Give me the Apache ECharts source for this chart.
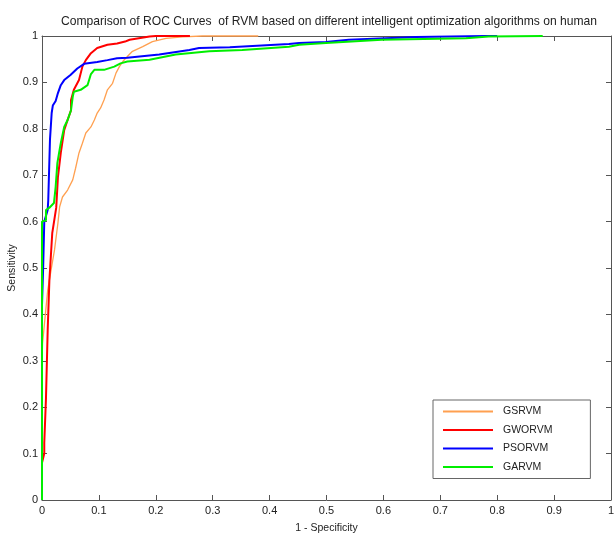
<!DOCTYPE html>
<html>
<head>
<meta charset="utf-8">
<script src="https://cdn.jsdelivr.net/npm/echarts@6/dist/echarts.min.js"></script>
<style>html,body{margin:0;padding:0;background:#fff}#c{width:614px;height:535px}</style>
</head>
<body>
<div id="c"></div>
<script>
const titleText = 'Comparison of ROC Curves  of RVM based on different intelligent optimization algorithms on human';
const xName = '1 - Specificity';
const yName = 'Sensitivity';
const seriesNames = ['GSRVM', 'GWORVM', 'PSORVM', 'GARVM'];
const seriesColors = ['#ffa050', '#ff0000', '#0000ff', '#00ee00'];

const gsrvm = [[0,0],[0,0.3],[0.001,0.338],[0.01,0.452],[0.016,0.496],[0.022,0.539],[0.028,0.597],[0.031,0.632],[0.036,0.653],[0.045,0.668],[0.054,0.69],[0.059,0.715],[0.065,0.748],[0.071,0.769],[0.077,0.791],[0.086,0.804],[0.092,0.819],[0.097,0.834],[0.103,0.845],[0.109,0.862],[0.115,0.884],[0.124,0.898],[0.13,0.92],[0.136,0.934],[0.142,0.945],[0.147,0.952],[0.159,0.967],[0.177,0.977],[0.194,0.988],[0.218,0.995],[0.247,0.998],[0.282,1],[0.38,1]];
const gworvm = [[0,0],[0,0.08],[0.004,0.1],[0.004,0.123],[0.007,0.22],[0.01,0.366],[0.013,0.474],[0.018,0.575],[0.025,0.63],[0.028,0.696],[0.033,0.748],[0.039,0.797],[0.045,0.819],[0.051,0.84],[0.051,0.862],[0.056,0.884],[0.065,0.905],[0.071,0.934],[0.077,0.948],[0.086,0.963],[0.097,0.974],[0.115,0.981],[0.132,0.984],[0.146,0.988],[0.154,0.992],[0.189,0.999],[0.2,1],[0.26,1]];
const psorvm = [[0,0],[0,0.42],[0.002,0.5],[0.004,0.6],[0.01,0.625],[0.011,0.646],[0.014,0.65],[0.014,0.776],[0.017,0.78],[0.017,0.834],[0.019,0.85],[0.024,0.86],[0.028,0.877],[0.033,0.894],[0.039,0.905],[0.05,0.916],[0.062,0.93],[0.074,0.94],[0.097,0.944],[0.115,0.948],[0.132,0.952],[0.15,0.953],[0.206,0.96],[0.259,0.97],[0.276,0.974],[0.33,0.976],[0.434,0.983],[0.452,0.985],[0.499,0.987],[0.539,0.992],[0.657,0.998],[0.78,1],[0.8,1]];
const garvm = [[0,0],[0,0.6],[0.007,0.603],[0.007,0.625],[0.013,0.63],[0.021,0.64],[0.024,0.675],[0.027,0.726],[0.03,0.748],[0.033,0.769],[0.039,0.804],[0.045,0.819],[0.051,0.84],[0.054,0.869],[0.056,0.88],[0.068,0.884],[0.08,0.894],[0.086,0.918],[0.092,0.927],[0.109,0.927],[0.127,0.934],[0.138,0.941],[0.15,0.945],[0.189,0.949],[0.235,0.96],[0.294,0.967],[0.352,0.97],[0.434,0.977],[0.452,0.981],[0.499,0.985],[0.597,0.992],[0.745,0.995],[0.785,0.999],[0.88,1]];
const seriesData = [gsrvm, gworvm, psorvm, garvm];
const lineWidths = [1.3, 2, 2, 2];

const FONT = "'Liberation Sans', Arial, sans-serif";
const chart = echarts.init(document.getElementById('c'));
const axisCommon = {
  type: 'value', min: 0, max: 1, interval: 0.1,
  axisLine: { show: true, onZero: false, lineStyle: { color: '#555', width: 1 } },
  axisTick: { show: true, inside: true, length: 5, lineStyle: { color: '#555' } },
  splitLine: { show: false },
};
const fmt = v => (v === 0 || v === 1) ? String(v) : v.toFixed(1);
chart.setOption({
  animation: false,
  backgroundColor: '#fff',
  title: {
    text: titleText, left: 324, top: 11, textAlign: 'center',
    textStyle: { fontFamily: FONT, fontSize: 12.1, fontWeight: 'normal', color: '#222' }
  },
  grid: { left: 42, right: 3, top: 36, bottom: 35, containLabel: false, outerBoundsMode: 'none' },
  legend: {
    orient: 'vertical', left: 433, top: 400,
    backgroundColor: '#fff', borderColor: '#666', borderWidth: 1,
    padding: [5, 38, 5, 10], itemWidth: 50, itemHeight: 2, itemGap: 5.5,
    icon: 'rect',
    textStyle: { fontFamily: FONT, fontSize: 10.5, color: '#222', lineHeight: 13, padding: [0, 0, 0, 5] },
    data: seriesNames
  },
  xAxis: [
    Object.assign({}, axisCommon, {
      position: 'bottom', name: xName, nameLocation: 'middle', nameGap: 23, nameMoveOverlap: false,
      nameTextStyle: { fontFamily: FONT, fontSize: 10.5, color: '#222' },
      axisLabel: { fontFamily: FONT, fontSize: 11, color: '#222', margin: 5, formatter: fmt }
    }),
    Object.assign({}, axisCommon, { position: 'top', axisLabel: { show: false } })
  ],
  yAxis: [
    Object.assign({}, axisCommon, {
      position: 'left', name: yName, nameLocation: 'middle', nameGap: 24, nameMoveOverlap: false,
      nameTextStyle: { fontFamily: FONT, fontSize: 10.5, color: '#222' },
      axisLabel: { fontFamily: FONT, fontSize: 11, color: '#222', margin: 4, formatter: fmt }
    }),
    Object.assign({}, axisCommon, { position: 'right', axisLabel: { show: false } })
  ],
  series: seriesNames.map((n, i) => ({
    name: n, type: 'line', data: seriesData[i], symbol: 'none', showSymbol: false,
    xAxisIndex: 0, yAxisIndex: 0, clip: false,
    itemStyle: { color: seriesColors[i] },
    lineStyle: { color: seriesColors[i], width: lineWidths[i] },
    z: [1, 2, 3, 4][i]
  }))
});
</script>
</body>
</html>
